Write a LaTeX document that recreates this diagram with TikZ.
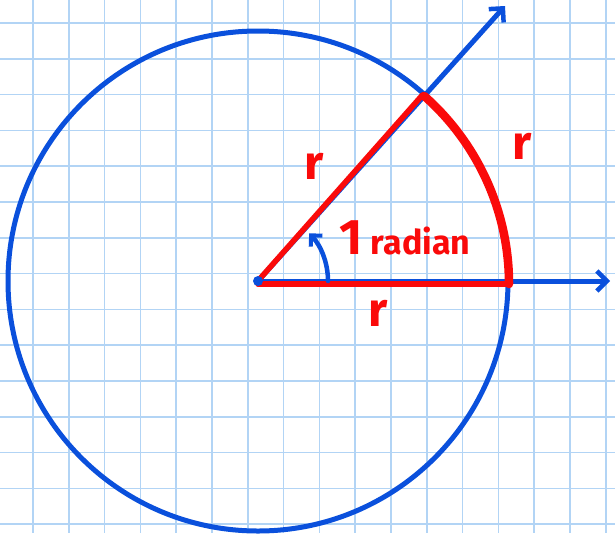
\documentclass[tikz,border=0pt]{standalone}
\usepackage{fontspec}
\setmainfont{Fira Sans}
\usetikzlibrary{arrows.meta, calc}

\definecolor{penblue}{RGB}{10,80,220}
\definecolor{penred}{RGB}{250,10,10}
\definecolor{gridblue}{RGB}{178,212,245}

\begin{document}
\begin{tikzpicture}[x=1pt, y=-1pt,
    gridline/.style={draw=gridblue, line width=1.6pt},
    blueline/.style={draw=penblue, line width=5pt, line cap=round},
    redline/.style={draw=penred, line width=5.5pt, line cap=round},
    ray/.style={blueline, -{Straight Barb[length=10pt, width=20pt, line width=4.5pt]}},
    lbl/.style={text=penred, font=\bfseries\fontsize{48}{48}\selectfont}
]
    \useasboundingbox (0,0) rectangle (615,533);
    \fill[white] (0,0) rectangle (615,533);

    % Grid paper
    \foreach \k in {0,...,16}
        \draw[gridline] ({33+35.8*\k},0) -- ({33+35.8*\k},533);
    \foreach \k in {0,...,14}
        \draw[gridline] (0,{23+35.8*\k}) -- (615,{23+35.8*\k});

    % Points
    \coordinate (O) at (258,281);
    \coordinate (A) at ($(O)+(-48.5:250)$);
    \coordinate (B) at ($(O)+(250,0)$);
    \coordinate (tipA) at (505,6);
    \coordinate (tipB) at (610,281);

    % Circle and rays
    \draw[blueline] (O) circle[radius=250];
    \draw[ray] (O) -- (tipA);
    \draw[ray] (O) -- (tipB);

    % Radii and arc of length r
    \draw[redline] ($(O)+(-1,1)$) -- ($(A)+(-1,1)$);
    \draw[redline] ($(O)+(0,3)$) -- ($(B)+(0,3)$);
    \draw[redline, line width=8.5pt] ($(B)+(1,3)$) arc[start angle=0, end angle=-48.5, radius=251];

    % Angle mark
    \draw[blueline, line width=4.5pt, -{Straight Barb[length=8pt, width=16pt, line width=4pt]}]
        ($(O)+(70,0)$) arc[start angle=0, end angle=-43, radius=70];
    \fill[penblue] (O) circle[radius=5];

    % Labels
    \node[lbl] (rdiag) at (314,166) {r};
    \node[lbl] (rarc) at (522,146) {r};
    \node[lbl] (rbase) at (378,313) {r};
    \node[lbl, font=\bfseries\fontsize{34}{34}\selectfont] (angle) at (405,238) {{\fontsize{50}{50}\selectfont 1} radian};
\end{tikzpicture}
\end{document}
